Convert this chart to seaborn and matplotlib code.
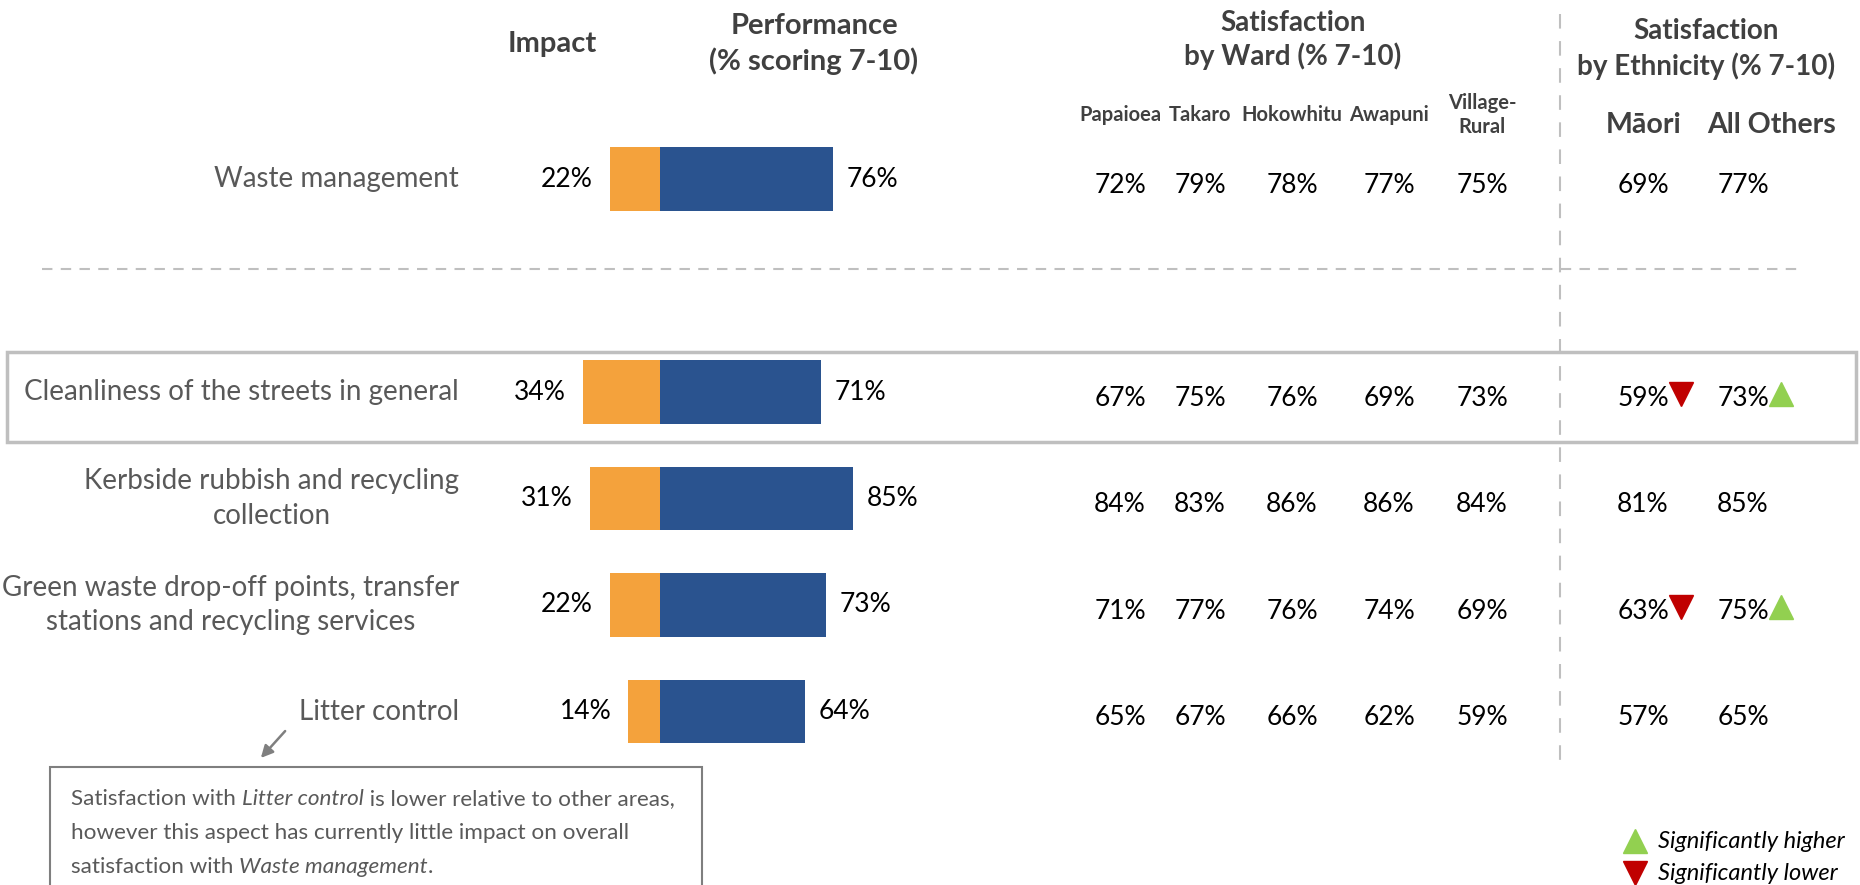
import matplotlib
matplotlib.use("Agg")
import matplotlib.pyplot as plt
import seaborn as sns
import pandas as pd
from matplotlib.patches import Rectangle, FancyArrowPatch
from matplotlib.transforms import blended_transform_factory

# ---- data -------------------------------------------------------------
aspects = [
    "Waste management",
    "Cleanliness of the streets in general",
    "Kerbside rubbish and recycling\ncollection",
    "Green waste drop-off points, transfer\nstations and recycling services",
    "Litter control",
]
impact = [22, 34, 31, 22, 14]
performance = [76, 71, 85, 73, 64]

ward_names = ["Papaioea", "Takaro", "Hokowhitu", "Awapuni", "Village-\nRural"]
papaioea = [72, 67, 84, 71, 65]
takaro = [79, 75, 83, 77, 67]
hokowhitu = [78, 76, 86, 76, 66]
awapuni = [77, 69, 86, 74, 62]
village_rural = [75, 73, 84, 69, 59]

ethnicity_names = ["Māori", "All Others"]
maori = [69, 59, 81, 63, 57]
all_others = [77, 73, 85, 75, 65]
maori_sig = ["", "lower", "", "lower", ""]
all_others_sig = ["", "higher", "", "higher", ""]

# ---- style ------------------------------------------------------------
W, H = 1860, 885
ORANGE = "#F4A23C"
BLUE = "#2A538F"
LABEL_GREY = "#595959"
HEAD_GREY = "#404040"
LINE_GREY = "#BFBFBF"
RED = "#C00000"
GREEN = "#92D050"

sns.set_theme(style="white")
plt.rcParams["font.family"] = ["Lato", "DejaVu Sans"]

fig = plt.figure(figsize=(W / 100, H / 100), dpi=100)
fig.patch.set_facecolor("white")


def fx(px):
    return px / W


def fy(py):
    return 1 - py / H


# bar axes covers whole figure; x in percent, y in row slots
ax = fig.add_axes([0, 0, 1, 1])
spacer = " "
order = [aspects[0], spacer] + aspects[1:]
rows = {a: order.index(a) for a in aspects}

df = pd.DataFrame({
    "aspect": aspects * 2,
    "measure": ["Impact"] * len(aspects) + ["Performance"] * len(aspects),
    "value": [-v for v in impact] + performance,
})
sns.barplot(
    data=df, x="value", y="aspect", hue="measure", order=order,
    hue_order=["Impact", "Performance"], palette=[ORANGE, BLUE],
    dodge=False, width=0.6, saturation=1, legend=False, ax=ax,
    edgecolor="none",
)

ZERO_PX, PX_PER_PCT = 660, 2.27
ROW0_PX, ROW_PX = 179, 106.5
ax.set_xlim(-ZERO_PX / PX_PER_PCT, (W - ZERO_PX) / PX_PER_PCT)
ax.set_ylim((H - ROW0_PX) / ROW_PX, -ROW0_PX / ROW_PX)
ax.axis("off")

tx = blended_transform_factory(fig.transFigure, ax.transData)
VAL_DY = 0.06  # table values sit slightly below the bar centre line

# aspect labels and bar value labels
for i, a in enumerate(aspects):
    r = rows[a]
    ax.text(fx(459), r, a, transform=tx, ha="right", va="center",
            multialignment="center", fontsize=20, color=LABEL_GREY,
            linespacing=1.4)
    ax.text(-impact[i] - 7.5, r, f"{impact[i]}%", ha="right", va="center",
            fontsize=19, color="black")
    ax.text(performance[i] + 6, r, f"{performance[i]}%", ha="left",
            va="center", fontsize=19, color="black")

# ward columns
ward_x = [1120, 1200, 1292, 1389, 1482]
ward_vals = [papaioea, takaro, hokowhitu, awapuni, village_rural]
for x, vals in zip(ward_x, ward_vals):
    for a, v in zip(aspects, vals):
        ax.text(fx(x), rows[a] + VAL_DY, f"{v}%", transform=tx,
                ha="center", va="center", fontsize=19, color="black")

# ethnicity columns with significance markers
eth_x = [1643, 1743]
eth_vals = [maori, all_others]
eth_sig = [maori_sig, all_others_sig]
for x, vals, sigs in zip(eth_x, eth_vals, eth_sig):
    for a, v, s in zip(aspects, vals, sigs):
        ax.text(fx(x), rows[a] + VAL_DY, f"{v}%", transform=tx,
                ha="center", va="center", fontsize=19, color="black")
        if s:
            ax.plot([fx(x + 38)], [rows[a] + VAL_DY - 0.04], transform=tx,
                    marker="v" if s == "lower" else "^",
                    color=RED if s == "lower" else GREEN,
                    markersize=17, linestyle="none", clip_on=False)

# column headers
hkw = dict(ha="center", va="center", fontweight="bold", color=HEAD_GREY)
fig.text(fx(552), fy(44), "Impact", fontsize=21, **hkw)
fig.text(fx(814), fy(44), "Performance\n(% scoring 7-10)", fontsize=21,
         linespacing=1.4, **hkw)
fig.text(fx(1293), fy(40), "Satisfaction\nby Ward (% 7-10)", fontsize=20,
         linespacing=1.3, **hkw)
fig.text(fx(1706), fy(49), "Satisfaction\nby Ethnicity (% 7-10)",
         fontsize=20, linespacing=1.35, **hkw)
for x, name in zip(ward_x, ward_names):
    fig.text(fx(x), fy(115), name, fontsize=14.5, linespacing=1.25, **hkw)
fig.text(fx(1644), fy(125), ethnicity_names[0], fontsize=20.5, **hkw)
fig.text(fx(1772), fy(125), ethnicity_names[1], fontsize=20.5, **hkw)

# separators and highlight box
fig.add_artist(plt.Line2D([fx(42), fx(1797)], [fy(269), fy(269)],
                          color=LINE_GREY, lw=1.5, ls=(0, (5, 4))))
fig.add_artist(plt.Line2D([fx(1560), fx(1560)], [fy(14), fy(768)],
                          color=LINE_GREY, lw=1.5, ls=(0, (7, 6))))
fig.add_artist(Rectangle((fx(7), fy(442)), fx(1856) - fx(7),
                         fy(352) - fy(442), transform=fig.transFigure,
                         fill=False, edgecolor=LINE_GREY, lw=2.5))

# commentary box with pointer to Litter control
fig.add_artist(Rectangle((fx(50), fy(900)), fx(702) - fx(50),
                         fy(767) - fy(900), transform=fig.transFigure,
                         fill=False, edgecolor="#7F7F7F", lw=1.5,
                         clip_on=False))
fig.add_artist(FancyArrowPatch((fx(287), fy(729)), (fx(259), fy(760)),
                               transform=fig.transFigure,
                               arrowstyle="-|>", mutation_scale=18,
                               color="#7F7F7F", lw=1.8))

note_lines = [
    [("Satisfaction with ", "normal"), ("Litter control", "italic"),
     (" is lower relative to other areas,", "normal")],
    [("however this aspect has currently little impact on overall", "normal")],
    [("satisfaction with ", "normal"), ("Waste management", "italic"),
     (".", "normal")],
]
note_baseline = [805, 839, 873]
renderer = fig.canvas.get_renderer()
for parts, y in zip(note_lines, note_baseline):
    x = fx(71)
    for txt, style in parts:
        t = fig.text(x, fy(y), txt, fontsize=16.2, color=LABEL_GREY,
                     style=style, va="baseline", ha="left")
        bb = t.get_window_extent(renderer=renderer)
        x = bb.x1 / W

# significance legend
fig.add_artist(plt.Line2D([fx(1635)], [fy(841)], marker="^", color=GREEN,
                          markersize=17, linestyle="none"))
fig.add_artist(plt.Line2D([fx(1635)], [fy(873)], marker="v", color=RED,
                          markersize=17, linestyle="none"))
fig.text(fx(1658), fy(842), "Significantly higher", fontsize=17,
         style="italic", color="black", va="center", ha="left")
fig.text(fx(1658), fy(873), "Significantly lower", fontsize=17,
         style="italic", color="black", va="center", ha="left")

fig.savefig("out.png", dpi=100, facecolor="white")
